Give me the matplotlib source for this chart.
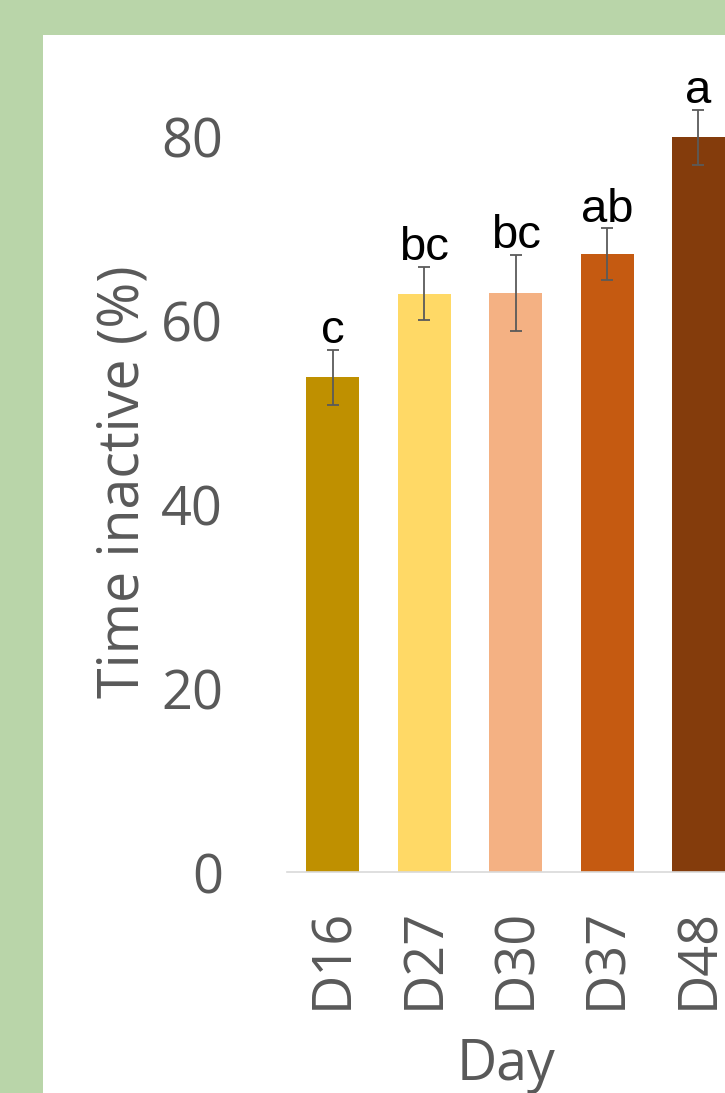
import matplotlib.pyplot as plt
from matplotlib.patches import Rectangle
import numpy as np

# values
days = ["D16", "D27", "D30", "D37", "D48"]
inactive = [53.8, 62.9, 63.0, 67.2, 79.9]
err = [3.0, 2.9, 4.1, 2.8, 3.0]
letters = ["c", "bc", "bc", "ab", "a"]
colors = ["#BF9000", "#FFD966", "#F4B183", "#C55A11", "#843C0C"]

W, H = 725, 1093
fig = plt.figure(figsize=(W / 100, H / 100), dpi=100, facecolor="#B9D5A9")

# white panel over the green frame
fig.patches.append(Rectangle((43 / W, 0), 1 - 43 / W, (H - 35) / H,
                             transform=fig.transFigure, facecolor="white",
                             edgecolor="none", zorder=0))

ax = fig.add_axes([287 / W, (H - 872) / H, 1 - 287 / W, (872 - 63) / H])
ax.set_zorder(2)
ax.patch.set_visible(False)

x = np.arange(len(days))
ax.bar(x, inactive, width=0.58, color=colors, zorder=2)
ax.errorbar(x, inactive, yerr=err, fmt="none", ecolor="#5A5A5A",
            elinewidth=1.3, capsize=4.5, capthick=1.3, zorder=3)

for xi, v, e, lab in zip(x, inactive, err, letters):
    ax.annotate(lab, (xi, v + e), xytext=(0, 5), textcoords="offset points",
                ha="center", va="baseline", fontsize=34, color="black",
                family=["Liberation Sans Narrow", "Liberation Sans"])

ax.set_xlim(-0.5, 4.29)
ax.set_ylim(0, 88)
ax.set_yticks([0, 20, 40, 60, 80])
ax.set_xticks(x)
ax.set_xticklabels(days, rotation=90)

for s in ["top", "right", "left"]:
    ax.spines[s].set_visible(False)
ax.spines["bottom"].set_color("#D9D9D9")
ax.spines["bottom"].set_linewidth(1.2)

font = "Open Sans"
ax.tick_params(axis="both", length=0, labelsize=39, labelcolor="#595959")
ax.tick_params(axis="y", pad=46)
ax.tick_params(axis="x", pad=26)
for t in ax.get_xticklabels() + ax.get_yticklabels():
    t.set_family(font)

ax.set_ylabel("Time inactive (%)", fontsize=40, color="#595959", family=font,
              labelpad=6)
ax.yaxis.label.set_y(0.482)
ax.set_xlabel("Day", fontsize=40, color="#595959", family=font, labelpad=20)

fig.savefig("out.png", dpi=100, facecolor=fig.get_facecolor())
